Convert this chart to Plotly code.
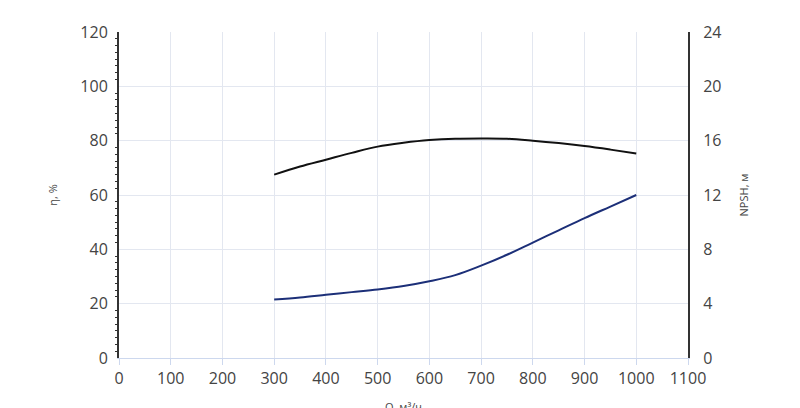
import plotly.graph_objects as go

q = [300, 350, 400, 450, 500, 550, 600, 650, 700, 750, 800, 850, 900, 950, 1000]
eta = [67.5, 70.5, 73.0, 75.5, 77.8, 79.2, 80.2, 80.7, 80.8, 80.7, 80.0, 79.1, 78.0, 76.7, 75.3]
npsh = [4.3, 4.45, 4.65, 4.85, 5.05, 5.3, 5.65, 6.1, 6.8, 7.6, 8.5, 9.4, 10.3, 11.15, 12.0]

fig = go.Figure()
fig.add_trace(go.Scatter(x=q, y=eta, mode='lines', line=dict(color='#111111', width=2, shape='spline'),
                         showlegend=False))
fig.add_trace(go.Scatter(x=q, y=npsh, mode='lines', yaxis='y2', line=dict(color='#1c2f78', width=2, shape='spline'),
                         showlegend=False))

font = dict(family='Open Sans', size=16, color='#444444')
fig.update_layout(
    width=800, height=408, plot_bgcolor='white', paper_bgcolor='white',
    margin=dict(l=111, r=120, t=24, b=58, autoexpand=False),
    font=font,
    xaxis=dict(title=dict(text='Q, м³/ч', font=dict(size=11)), range=[0, 1100], dtick=100,
               showgrid=True, gridcolor='#e3e7f0', showline=True, linecolor='#cdd8ee',
               ticks='outside', tickcolor='#cdd8ee', ticklen=6, zeroline=False, automargin=False),
    yaxis=dict(title=dict(text='η, %', font=dict(size=11), standoff=20), range=[0, 120], dtick=20,
               showgrid=True, gridcolor='#e3e7f0', showline=True, linecolor='#333333', linewidth=2,
               zeroline=False, automargin=False, ticklabelstandoff=6,
               minor=dict(ticks='outside', ticklen=2, dtick=2.5, tickcolor='#333333')),
    yaxis2=dict(title=dict(text='NPSH, м', font=dict(size=11), standoff=20), range=[0, 24], dtick=4,
                overlaying='y', side='right', showgrid=False, showline=True, linecolor='#333333',
                linewidth=2, zeroline=False, automargin=False, ticklabelstandoff=10),
)
fig.write_html("out.html")
